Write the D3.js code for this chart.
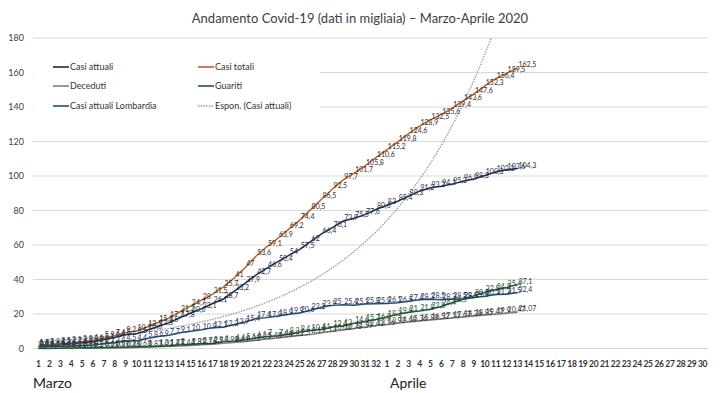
<!DOCTYPE html>
<html>
<head>
<meta charset="utf-8">
<script src="https://cdn.jsdelivr.net/npm/d3@7"></script>
<style>
  body { margin: 0; background: #fff; }
  text { font-family: Lato, "Open Sans", sans-serif; }
</style>
</head>
<body>
<div id="chart"></div>
<script>
const width = 720;
const height = 393;

// Day labels on the x axis (March as in the original sheet, then April)
const marzoDays = d3.range(1, 33);
const aprileDays = d3.range(1, 31);
const xLabels = marzoDays.concat(aprileDays);

// Values in thousands, 1 March -> 14 April
const casiAttuali = [1.6, 1.8, 2.3, 2.7, 3.3, 3.9, 5.1, 6.4, 8, 8.5, 10.6, 12.8, 15, 17.8, 20.6, 23.1, 26.1, 28.7, 33.2, 37.9, 42.7, 46.6, 50.4, 54, 57.5, 62, 66.4, 70.1, 73.9, 75.5, 77.6, 80.6, 83, 85.4, 88.3, 91.2, 93.2, 94.1, 95.3, 96.9, 98.3, 100.3, 102.3, 103.6, 104.3];
const casiTotali = [1.7, 2, 2.5, 3.1, 3.9, 4.6, 5.9, 7.4, 9.2, 10.1, 12.5, 15.1, 17.7, 21.2, 24.7, 28, 31.5, 35.7, 41, 47, 53.6, 59.1, 63.9, 69.2, 74.4, 80.5, 86.5, 92.5, 97.7, 101.7, 105.8, 110.6, 115.2, 119.8, 124.6, 128.9, 132.5, 135.6, 139.4, 143.6, 147.6, 152.3, 156.4, 159.5, 162.5];
const deceduti = [0.03, 0.05, 0.08, 0.11, 0.15, 0.2, 0.23, 0.37, 0.46, 0.63, 0.83, 1.02, 1.27, 1.44, 1.81, 2.16, 2.5, 2.98, 3.41, 4.03, 4.83, 5.48, 6.08, 6.82, 7.5, 8.17, 9.13, 10.02, 10.78, 11.59, 12.43, 13.16, 13.92, 14.68, 15.36, 15.89, 16.52, 17.13, 17.67, 18.28, 18.85, 19.47, 19.9, 20.47, 21.07];
const guariti = [0.1, 0.1, 0.2, 0.3, 0.4, 0.5, 0.6, 0.6, 0.7, 1, 1, 1.3, 1.4, 2, 2.3, 2.7, 2.9, 4, 4.4, 5.1, 6.1, 7, 7.4, 8.3, 9.4, 10.4, 11, 12.4, 13, 14.6, 15.7, 16.8, 18.3, 19.8, 21, 21.8, 22.8, 24.4, 26.5, 28.5, 30.5, 32.5, 34.2, 35.4, 37.1];
const lombardia = [0.9, 1.1, 1.3, 1.5, 1.8, 2, 2.7, 3.4, 4.5, 4.4, 5.8, 6.9, 7.7, 9.1, 10, 10.9, 12.1, 12.3, 13.9, 15.4, 17.4, 17.9, 18.9, 19.9, 20.6, 22.2, 23.9, 25, 25.4, 25.1, 25.8, 25.9, 26.1, 26.5, 27.4, 28.3, 28.5, 28.3, 28.5, 28.5, 29.5, 30.3, 31.3, 31.5, 32.4];
const yTicks = [0, 20, 40, 60, 80, 100, 120, 140, 160, 180];

const series = [
    { name: "Casi attuali", values: casiAttuali, color: "#1c2b4a", label: "#1c2b4a" },
    { name: "Casi totali", values: casiTotali, color: "#b5622f", label: "#3a2a20" },
    { name: "Deceduti", values: deceduti, color: "#7f7f7f", label: "#333" },
    { name: "Guariti", values: guariti, color: "#1d5a36", label: "#1d4a2e" },
    { name: "Casi attuali Lombardia", values: lombardia, color: "#1f4e79", label: "#1f3050" }
];

const svg = d3.select("#chart")
    .append("svg")
    .attr("width", width)
    .attr("height", height);

svg.append("rect").attr("width", width).attr("height", height).attr("fill", "#fff");

const x = d3.scaleBand().domain(d3.range(xLabels.length)).range([33, 708]);
const y = d3.scaleLinear().domain([0, 180]).range([348.5, 38]);
const cx = i => x(i) + x.bandwidth() / 2;

// Gridlines
svg.append("g")
    .selectAll("line")
    .data(yTicks)
    .join("line")
    .attr("x1", 33).attr("x2", 708)
    .attr("y1", d => y(d)).attr("y2", d => y(d))
    .attr("stroke", "#d9d9d9")
    .attr("stroke-width", 1);

// Y tick labels
svg.append("g")
    .selectAll("text")
    .data(yTicks)
    .join("text")
    .attr("x", 24)
    .attr("y", d => y(d) + 3)
    .attr("text-anchor", "end")
    .attr("font-size", 9)
    .attr("fill", "#404040")
    .text(d => d);

// X tick labels
svg.append("g")
    .selectAll("text")
    .data(xLabels)
    .join("text")
    .attr("x", (d, i) => cx(i))
    .attr("y", 367)
    .attr("text-anchor", "middle")
    .attr("font-size", 8.5)
    .attr("font-weight", "bold")
    .attr("letter-spacing", -0.3)
    .attr("fill", "#333")
    .text(d => d);

svg.append("text").attr("x", 33).attr("y", 388).attr("font-size", 14).attr("fill", "#222").text("Marzo");
svg.append("text").attr("x", 390).attr("y", 388).attr("font-size", 14).attr("fill", "#222").text("Aprile");

// Title
svg.append("text")
    .attr("x", 360)
    .attr("y", 23)
    .attr("text-anchor", "middle")
    .attr("font-size", 13)
    .attr("fill", "#404040")
    .text("Andamento Covid-19 (dati in migliaia) \u2013 Marzo-Aprile 2020");

svg.append("clipPath").attr("id", "plot")
    .append("rect").attr("x", 33).attr("y", 38).attr("width", 675).attr("height", 312);

// Exponential trendline fitted on Casi attuali (least squares on ln y)
const idx = casiAttuali.map((d, i) => i);
const lnY = casiAttuali.map(d => Math.log(d));
const mx = d3.mean(idx), my = d3.mean(lnY);
const b = d3.sum(idx, i => (i - mx) * (lnY[i] - my)) / d3.sum(idx, i => (i - mx) * (i - mx));
const a = Math.exp(my - b * mx);
const trendX = d3.range(0, casiAttuali.length - 1 + 0.001, 0.2);

svg.append("path")
    .datum(trendX)
    .attr("clip-path", "url(#plot)")
    .attr("fill", "none")
    .attr("stroke", "#8a9ab3")
    .attr("stroke-width", 1.3)
    .attr("stroke-dasharray", "1.5,1.2")
    .attr("d", d3.line().x(t => x(0) + x.bandwidth() / 2 + t * x.step()).y(t => y(a * Math.exp(b * t))));

// Series lines
const line = d3.line().x((d, i) => cx(i)).y(d => y(d));
series.forEach(s => {
    svg.append("path")
        .datum(s.values)
        .attr("fill", "none")
        .attr("stroke", s.color)
        .attr("stroke-width", 1.5)
        .attr("d", line);
});

// Data labels
const fmt = v => String(v).replace(".", ",");
series.forEach(s => {
    svg.append("g")
        .selectAll("text")
        .data(s.values)
        .join("text")
        .attr("x", (d, i) => cx(i) + 1)
        .attr("y", d => y(d) - 1)
        .attr("font-size", 7)
        .attr("fill", s.label)
        .text(d => fmt(d));
});

// Legend (white box over gridlines)
svg.append("rect").attr("x", 34).attr("y", 54).attr("width", 286).attr("height", 62).attr("fill", "#fff");
const legendItems = [
    { name: "Casi attuali", color: "#1c2b4a", col: 0, row: 0 },
    { name: "Casi totali", color: "#b5622f", col: 1, row: 0 },
    { name: "Deceduti", color: "#7f7f7f", col: 0, row: 1 },
    { name: "Guariti", color: "#1d5a36", col: 1, row: 1 },
    { name: "Casi attuali Lombardia", color: "#1f4e79", col: 0, row: 2 },
    { name: "Espon. (Casi attuali)", color: "#8a9ab3", col: 1, row: 2, dash: true }
];
const lg = svg.append("g")
    .selectAll("g")
    .data(legendItems)
    .join("g")
    .attr("transform", d => `translate(${d.col ? 198 : 53},${[67, 86, 106][d.row]})`);
lg.append("line")
    .attr("x1", 0).attr("x2", 16)
    .attr("stroke", d => d.color)
    .attr("stroke-width", d => d.dash ? 1.3 : 1.6)
    .attr("stroke-dasharray", d => d.dash ? "1.5,1.2" : null);
lg.append("text")
    .attr("x", 17)
    .attr("y", 3)
    .attr("font-size", 9)
    .attr("fill", "#333")
    .text(d => d.name);
</script>
</body>
</html>
